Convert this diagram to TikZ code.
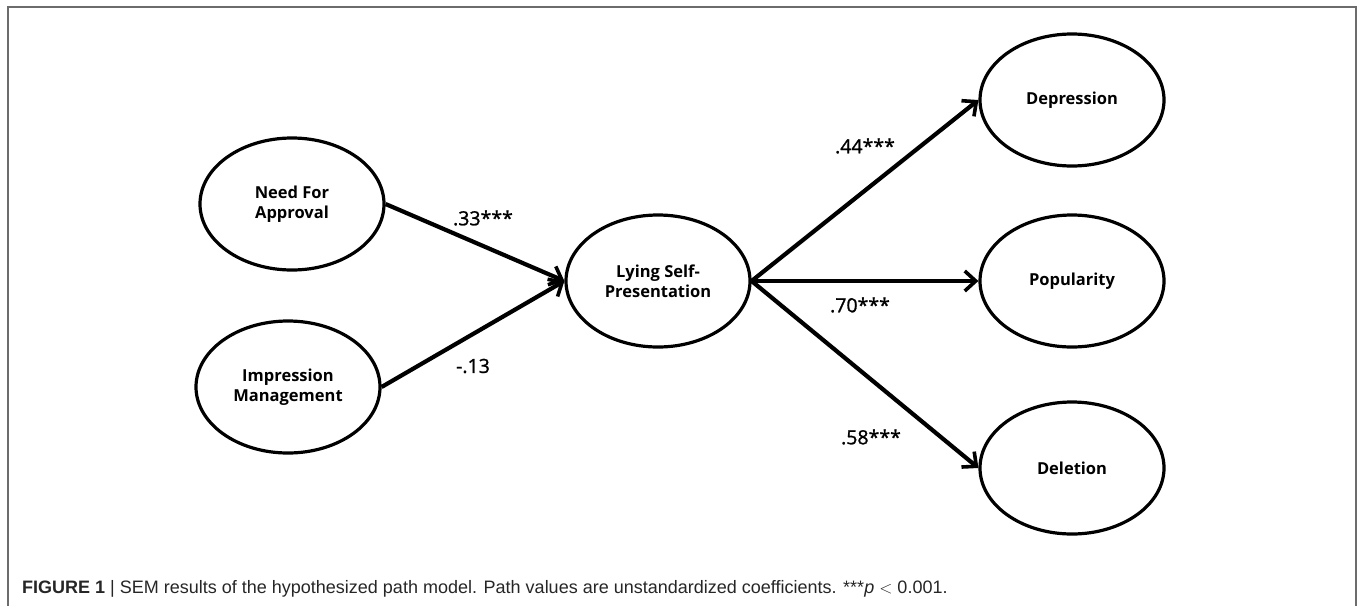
\documentclass[tikz,border=0pt]{standalone}
\usepackage{fontspec}
\setmainfont{Open Sans}
\newfontfamily\coeffont{Open Sans}[FakeBold=1.2]
\newfontfamily\capfont{Liberation Sans}
\usetikzlibrary{shapes.geometric,arrows.meta}
\begin{document}
\begin{tikzpicture}[x=1pt,y=-1pt,
  latent/.style={ellipse,draw=black,line width=3.2pt,minimum width=184pt,minimum height=132pt,inner sep=0pt,align=center,font=\fontsize{16.5}{20}\selectfont\bfseries},
  path/.style={line width=4.2pt,-{Straight Barb[length=11pt,width=20pt,line width=3.6pt]}},
  coef/.style={font=\coeffont\fontsize{19.5}{21}\selectfont}]
\useasboundingbox (0,0) rectangle (1357,606);
\draw[gray!85!black,line width=2pt] (8,606) -- (8,7) -- (1356,7) -- (1356,606);
\node[latent] (nfa) at (292,204) {Need For\\Approval};
\node[latent] (im) at (288,387) {Impression\\Management};
\node[latent] (lsp) at (658,281) {Lying Self-\\Presentation};
\node[latent] (dep) at (1072,100) {Depression};
\node[latent] (pop) at (1072,281) {Popularity};
\node[latent] (del) at (1072,468) {Deletion};
\draw[path] (nfa.east) -- (lsp.west);
\draw[path] (im.east) -- (lsp.west);
\draw[path] (lsp.east) -- (dep.west);
\draw[path] (lsp.east) -- (pop.west);
\draw[path] (lsp.east) -- (del.west);
\node[coef] (c1) at (483,218) {.33***};
\node[coef] (c2) at (473,366) {-.13};
\node[coef] (c3) at (865,146) {.44***};
\node[coef] (c4) at (860,305) {.70***};
\node[coef] (c5) at (871,437) {.58***};
\node[anchor=base west,inner sep=0pt,font=\capfont\fontsize{18}{20}\selectfont,text=black!85] (cap) at (22,593)
  {\textbf{FIGURE 1} | SEM results of the hypothesized path model. Path values are unstandardized coefficients. ***\textit{p} $<$ 0.001.};
\end{tikzpicture}
\end{document}
